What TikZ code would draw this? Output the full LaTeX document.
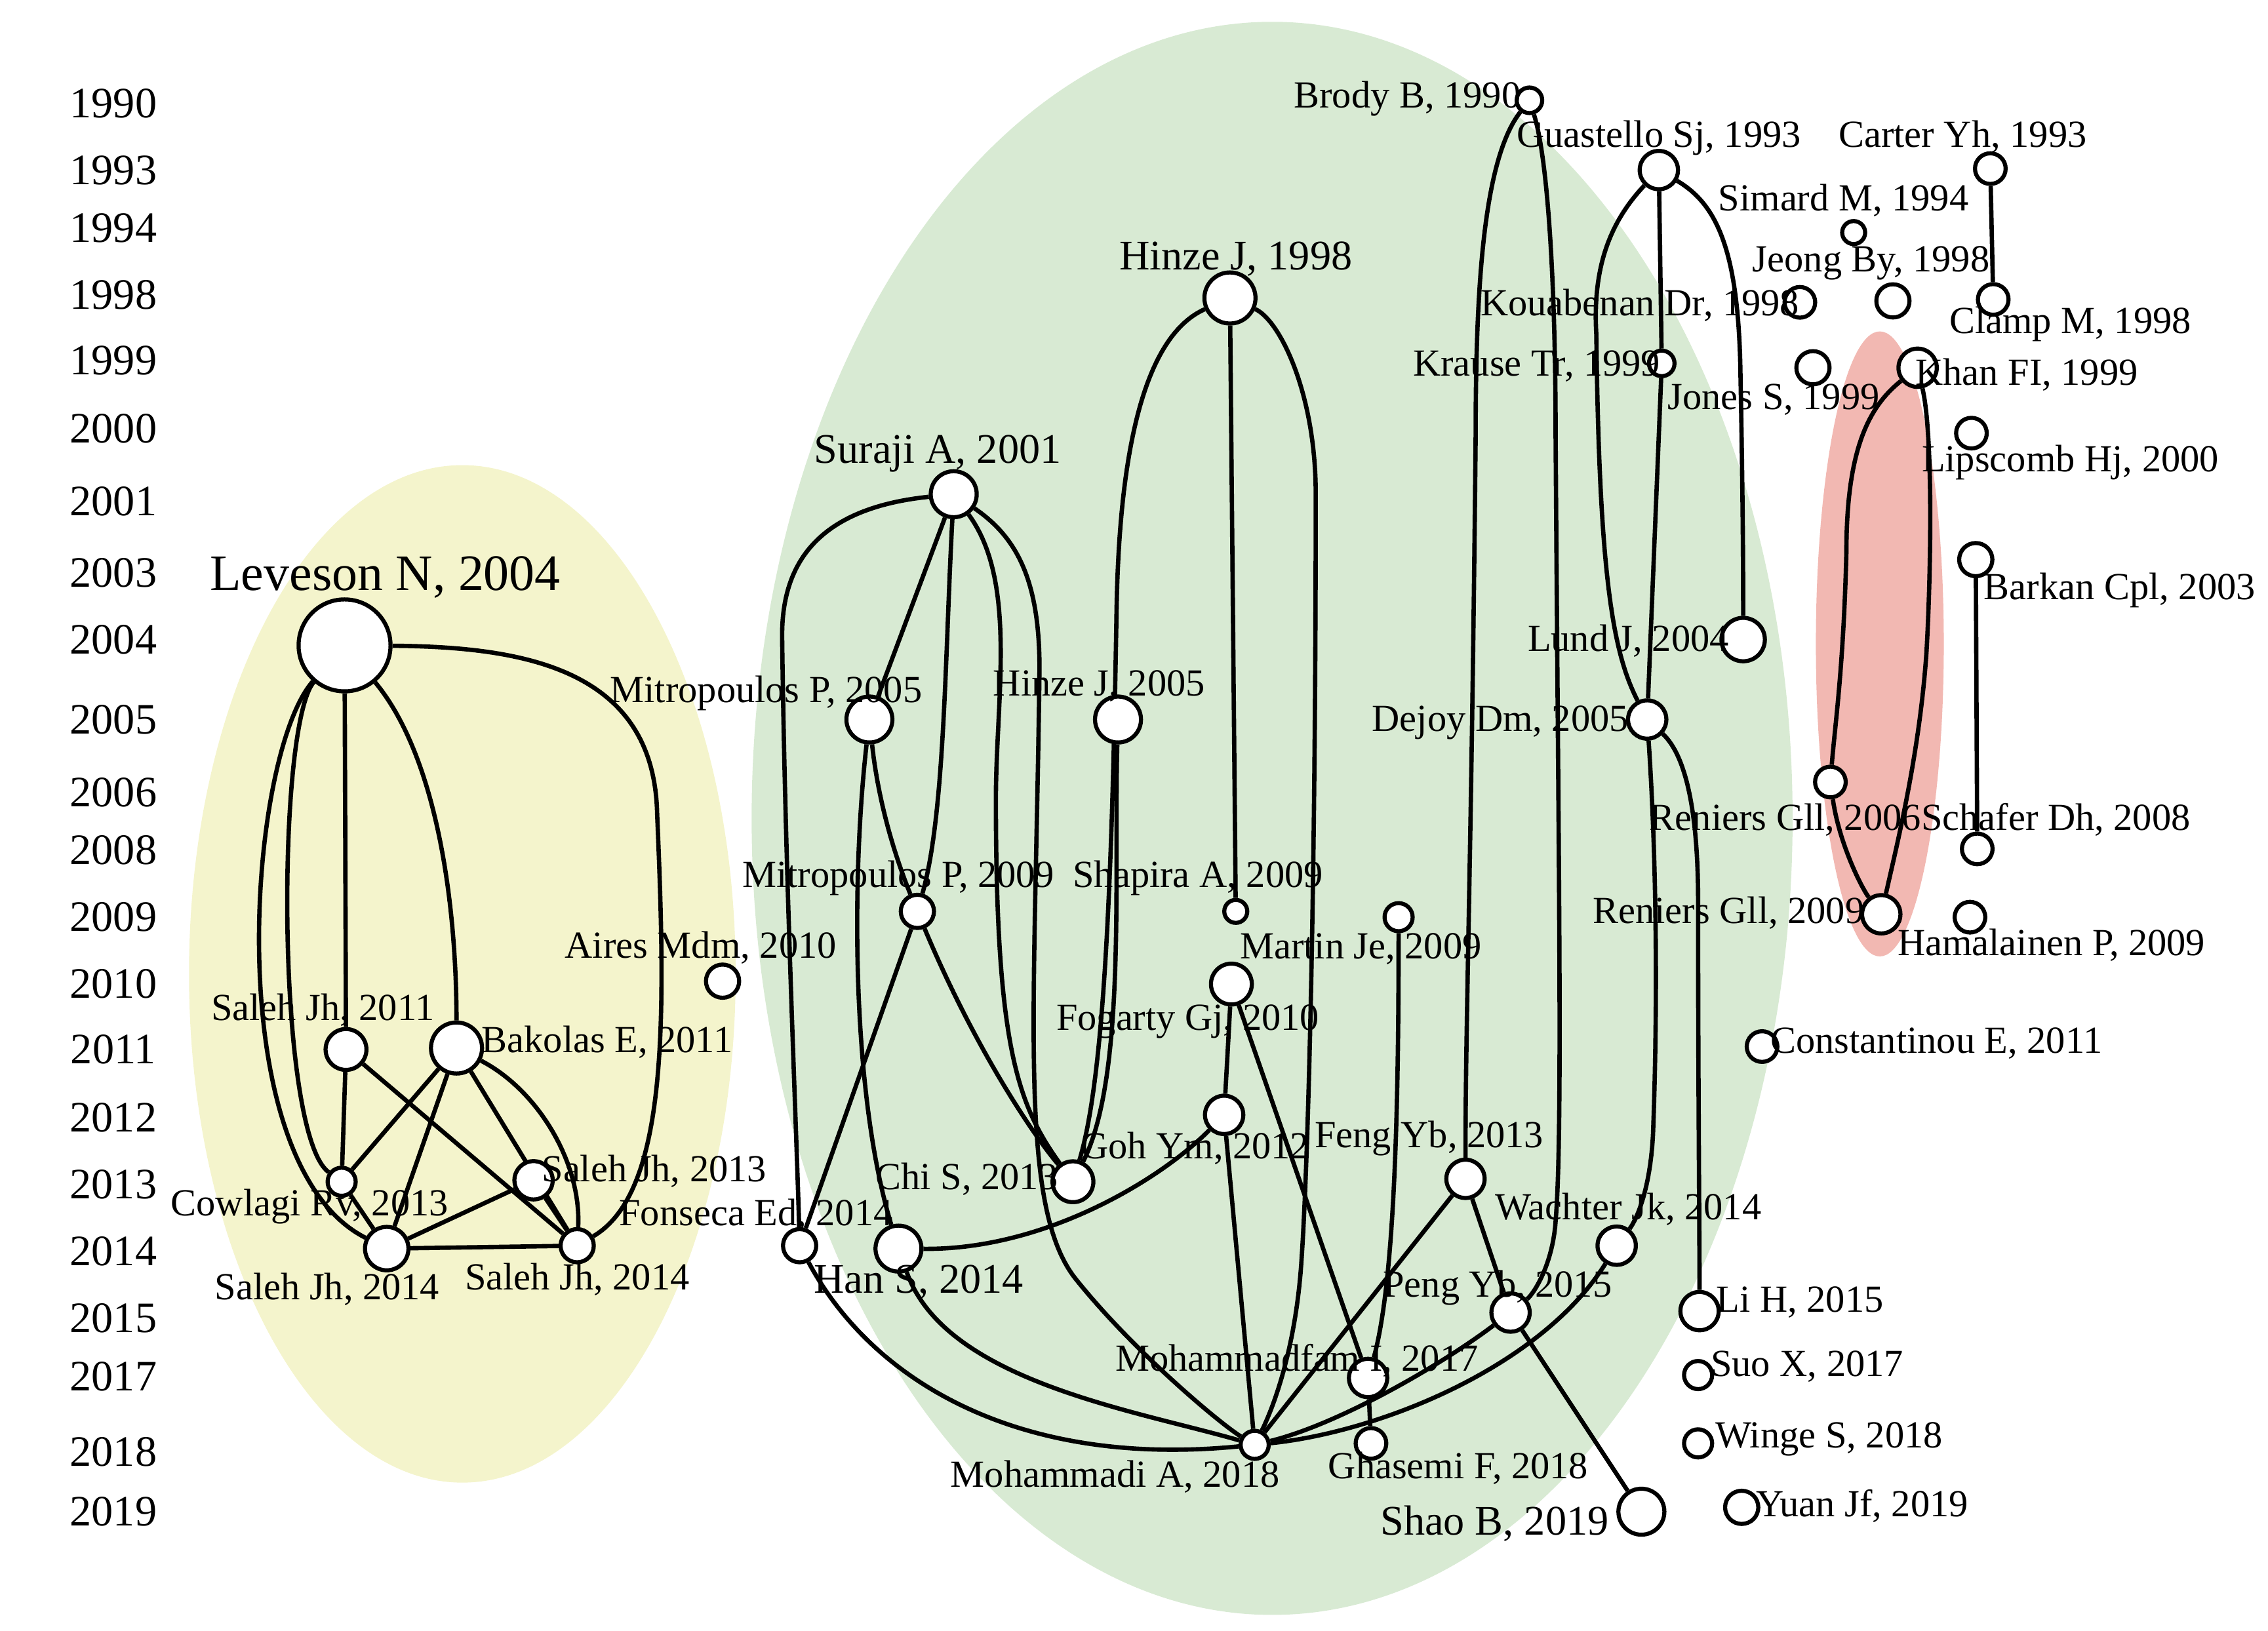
\documentclass[tikz,border=0pt]{standalone}
\usepackage{fontspec}
\setmainfont{Liberation Serif}
\pgfdeclarelayer{back}
\pgfdeclarelayer{edges}
\pgfsetlayers{back,edges,main}
\definecolor{cyel}{RGB}{244,244,204}
\definecolor{cgrn}{RGB}{216,234,211}
\definecolor{cred}{RGB}{242,184,178}
\begin{document}
\begin{tikzpicture}[x=0.02cm,y=-0.02cm,
  n/.style={circle,draw,line width=1.6pt,fill=white,inner sep=0pt,minimum size=#1},
  n/.default=12,
  e/.style={line width=1.7pt},
  lb/.style={font=\fontsize{15}{16}\selectfont,inner sep=0pt},
  lbb/.style={font=\fontsize{16.5}{17}\selectfont,inner sep=0pt},
  yr/.style={font=\fontsize{17}{18}\selectfont,inner sep=0pt}]
\useasboundingbox (0,0) rectangle (1560,1122);
\begin{pgfonlayer}{back}
\fill[cyel] (318,670) ellipse [x radius=188,y radius=350];
\fill[cgrn] (875,563) ellipse [x radius=358,y radius=548];
\fill[cred] (1293,443) ellipse [x radius=44,y radius=215];
\end{pgfonlayer}
% years
\foreach \y/\t in {71/1990,117/1993,157/1994,203/1998,248/1999,295/2000,345/2001,394/2003,440/2004,495/2005,545/2006,585/2008,631/2009,677/2010,722/2011,769/2012,815/2013,861/2014,907/2015,947/2017,999/2018,1040/2019}
  \node[yr] (y\t) at (78,\y) {\t};
% nodes
\node[n=36] (lev) at (237,444) {};
\node[n=16] (sa11) at (238,722) {};
\node[n=20] (bak) at (314,721) {};
\node[n=11] (cow) at (235,813) {};
\node[n=15] (sa13) at (367,812) {};
\node[n=17] (sa14a) at (266,859) {};
\node[n=13] (sa14b) at (397,857) {};
\node[n=13] (aires) at (497,675) {};
\node[n=18] (sur) at (656,340) {};
\node[n=18] (mit05) at (598,495) {};
\node[n=18] (hin05) at (769,495) {};
\node[n=20] (hin98) at (846,205) {};
\node[n=13] (mit09) at (631,627) {};
\node[n=9] (shap) at (850,627) {};
\node[n=11] (mart) at (962,631) {};
\node[n=16] (fog) at (847,677) {};
\node[n=15] (goh) at (842,767) {};
\node[n=16] (chi) at (738,813) {};
\node[n=13] (fon) at (550,857) {};
\node[n=18] (han) at (618,859) {};
\node[n=15] (mfam) at (941,948) {};
\node[n=12] (gha) at (943,993) {};
\node[n=11] (mhd) at (863,994) {};
\node[n=15] (feng) at (1008,811) {};
\node[n=15] (peng) at (1039,903) {};
\node[n=18] (shao) at (1129,1040) {};
\node[n=10] (brody) at (1052,69) {};
\node[n=15] (gua) at (1141,117) {};
\node[n=12] (cart) at (1369,116) {};
\node[n=9] (sim) at (1275,160) {};
\node[n=13] (jeo) at (1302,207) {};
\node[n=12] (kou) at (1238,208) {};
\node[n=12] (clamp) at (1371,206) {};
\node[n=10] (kra) at (1143,250) {};
\node[n=13] (jon) at (1247,253) {};
\node[n=15] (khan) at (1319,253) {};
\node[n=12] (lip) at (1356,298) {};
\node[n=13] (bark) at (1359,385) {};
\node[n=17] (lund) at (1199,440) {};
\node[n=15] (dej) at (1133,495) {};
\node[n=12] (ren06) at (1259,538) {};
\node[n=12] (scha) at (1360,584) {};
\node[n=15] (ren09) at (1294,629) {};
\node[n=12] (ham) at (1355,631) {};
\node[n=12] (con) at (1212,720) {};
\node[n=15] (wach) at (1112,857) {};
\node[n=15] (lih) at (1169,902) {};
\node[n=11] (suo) at (1168,946) {};
\node[n=11] (win) at (1168,993) {};
\node[n=13] (yuan) at (1198,1037) {};
\begin{pgfonlayer}{edges}
% yellow
\draw[e] (lev) .. controls (170,520) and (150,800) .. (sa14a);
\draw[e] (lev) .. controls (190,500) and (190,780) .. (cow);
\draw[e] (lev) -- (sa11);
\draw[e] (lev) .. controls (300,520) and (314,620) .. (bak);
\draw[e] (lev) .. controls (360,445) and (450,460) .. (452,560) .. controls (458,700) and (460,820) .. (sa14b);
\draw[e] (sa11) -- (cow);
\draw[e] (sa11) -- (sa14b);
\draw[e] (bak) -- (cow);
\draw[e] (bak) -- (sa14a);
\draw[e] (bak) -- (sa14b);
\draw[e] (bak) .. controls (370,750) and (400,800) .. (sa14b);
\draw[e] (cow) -- (sa14a);
\draw[e] (sa13) -- (sa14a);
\draw[e] (sa14a) -- (sa14b);
\draw[e] (sa13) -- (sa14b);
% green
\draw[e] (sur) .. controls (560,350) and (537,390) .. (538,440) .. controls (540,600) and (548,780) .. (fon);
\draw[e] (sur) -- (mit05);
\draw[e] (sur) .. controls (650,450) and (650,560) .. (mit09);
\draw[e] (sur) .. controls (700,400) and (685,480) .. (685,550) .. controls (685,720) and (700,760) .. (chi);
\draw[e] (sur) .. controls (700,370) and (715,400) .. (715,460) .. controls (712,700) and (700,830) .. (740,880) .. controls (780,930) and (840,980) .. (mhd);
\draw[e] (mit05) .. controls (586,600) and (585,750) .. (han);
\draw[e] (mit05) .. controls (605,560) and (620,600) .. (mit09);
\draw[e] (mit09) .. controls (670,720) and (710,780) .. (chi);
\draw[e] (mit09) -- (fon);
\draw[e] (fon) .. controls (600,950) and (700,1010) .. (mhd);
\draw[e] (han) .. controls (650,950) and (780,970) .. (mhd);
\draw[e] (han) .. controls (720,860) and (800,810) .. (goh);
\draw[e] (hin98) .. controls (790,230) and (770,300) .. (768,420) .. controls (765,600) and (760,740) .. (chi);
\draw[e] (hin05) .. controls (766,600) and (775,740) .. (chi);
\draw[e] (hin98) -- (shap);
\draw[e] (hin98) .. controls (880,220) and (905,270) .. (905,340) .. controls (905,600) and (900,800) .. (895,870) .. controls (890,940) and (870,980) .. (mhd);
\draw[e] (fog) -- (goh);
\draw[e] (fog) -- (mfam);
\draw[e] (goh) -- (mhd);
\draw[e] (mart) .. controls (962,750) and (960,880) .. (mfam);
\draw[e] (mfam) -- (gha);
\draw[e] (feng) -- (mhd);
\draw[e] (feng) -- (peng);
\draw[e] (peng) -- (shao);
\draw[e] (brody) .. controls (1020,110) and (1015,200) .. (1015,300) .. controls (1012,600) and (1008,700) .. (feng);
\draw[e] (brody) .. controls (1065,110) and (1070,200) .. (1070,300) .. controls (1072,600) and (1075,780) .. (1070,840) .. controls (1068,870) and (1055,890) .. (peng);
\draw[e] (peng) .. controls (990,940) and (920,980) .. (mhd);
\draw[e] (wach) .. controls (1060,940) and (950,985) .. (mhd);
\draw[e] (gua) -- (kra);
\draw[e] (kra) -- (dej);
\draw[e] (gua) .. controls (1110,150) and (1095,180) .. (1098,230) .. controls (1100,400) and (1110,450) .. (dej);
\draw[e] (gua) .. controls (1180,140) and (1195,170) .. (1197,250) .. controls (1199,350) and (1199,400) .. (lund);
\draw[e] (dej) .. controls (1140,600) and (1140,700) .. (1137,780) .. controls (1135,820) and (1125,840) .. (wach);
\draw[e] (dej) .. controls (1160,520) and (1168,560) .. (1168,620) .. controls (1168,750) and (1169,850) .. (lih);
% right
\draw[e] (cart) -- (clamp);
\draw[e] (bark) -- (scha);
\draw[e] (khan) .. controls (1285,280) and (1270,310) .. (1270,380) .. controls (1268,460) and (1262,500) .. (ren06);
\draw[e] (ren06) .. controls (1265,580) and (1280,610) .. (ren09);
\draw[e] (khan) .. controls (1330,300) and (1328,400) .. (1325,450) .. controls (1320,520) and (1305,580) .. (ren09);
\end{pgfonlayer}
% labels
\node[font=\fontsize{20}{21}\selectfont,inner sep=0pt] (llev) at (265,397) {Leveson N, 2004};
\node[lb] (lsa11) at (222,695) {Saleh Jh, 2011};
\node[lb,anchor=west] (lbak) at (331,717) {Bakolas E, 2011};
\node[lb] (lcow) at (213,830) {Cowlagi Rv, 2013};
\node[lb] (lsa13) at (450,806) {Saleh Jh, 2013};
\node[lb] (lsa14a) at (225,887) {Saleh Jh, 2014};
\node[lb] (lsa14b) at (397,880) {Saleh Jh, 2014};
\node[lb] (laires) at (482,652) {Aires Mdm, 2010};
\node[lbb] (lsur) at (645,312) {Suraji A, 2001};
\node[lb] (lmit05) at (527,477) {Mitropoulos P, 2005};
\node[lb] (lhin05) at (756,472) {Hinze J, 2005};
\node[lbb] (lhin98) at (850,178) {Hinze J, 1998};
\node[lb] (lmit09) at (618,604) {Mitropoulos P, 2009};
\node[lb] (lshap) at (824,604) {Shapira A, 2009};
\node[lb] (lmart) at (936,653) {Martin Je, 2009};
\node[lb] (lfog) at (817,703) {Fogarty Gj, 2010};
\node[lb] (lgoh) at (822,790) {Goh Ym, 2012};
\node[lb] (lchi) at (665,811) {Chi S, 2013};
\node[lb] (lfon) at (520,836) {Fonseca Ed, 2014};
\node[lbb] (lhan) at (632,882) {Han S, 2014};
\node[lb] (lmfam) at (892,936) {Mohammadfam I, 2017};
\node[lb] (lgha) at (1003,1010) {Ghasemi F, 2018};
\node[lb] (lmhd) at (767,1016) {Mohammadi A, 2018};
\node[lb] (lfeng) at (983,783) {Feng Yb, 2013};
\node[lb] (lpeng) at (1030,886) {Peng Yb, 2015};
\node[lbb] (lshao) at (1028,1048) {Shao B, 2019};
\node[lb] (lbrody) at (968,68) {Brody B, 1990};
\node[lb] (lgua) at (1141,95) {Guastello Sj, 1993};
\node[lb] (lcart) at (1350,94) {Carter Yh, 1993};
\node[lb] (lsim) at (1268,138) {Simard M, 1994};
\node[lb] (ljeo) at (1287,181) {Jeong By, 1998};
\node[lb] (lkou) at (1128,210) {Kouabenan Dr, 1998};
\node[lb] (lclamp) at (1424,223) {Clamp M, 1998};
\node[lb] (lkra) at (1057,252) {Krause Tr, 1999};
\node[lb] (ljon) at (1220,275) {Jones S, 1999};
\node[lb] (lkhan) at (1394,258) {Khan FI, 1999};
\node[lb] (llip) at (1424,318) {Lipscomb Hj, 2000};
\node[lb] (lbark) at (1458,406) {Barkan Cpl, 2003};
\node[lb] (llund) at (1120,441) {Lund J, 2004};
\node[lb] (ldej) at (1032,497) {Dejoy Dm, 2005};
\node[lb] (lren06) at (1228,564) {Reniers Gll, 2006};
\node[lb] (lscha) at (1414,564) {Schafer Dh, 2008};
\node[lb] (lren09) at (1189,628) {Reniers Gll, 2009};
\node[lb] (lham) at (1411,650) {Hamalainen P, 2009};
\node[lb] (lcon) at (1332,718) {Constantinou E, 2011};
\node[lb] (lwach) at (1120,832) {Wachter Jk, 2014};
\node[lb] (llih) at (1238,896) {Li H, 2015};
\node[lb] (lsuo) at (1243,940) {Suo X, 2017};
\node[lb] (lwin) at (1258,990) {Winge S, 2018};
\node[lb] (lyuan) at (1281,1036) {Yuan Jf, 2019};
\end{tikzpicture}
\end{document}
